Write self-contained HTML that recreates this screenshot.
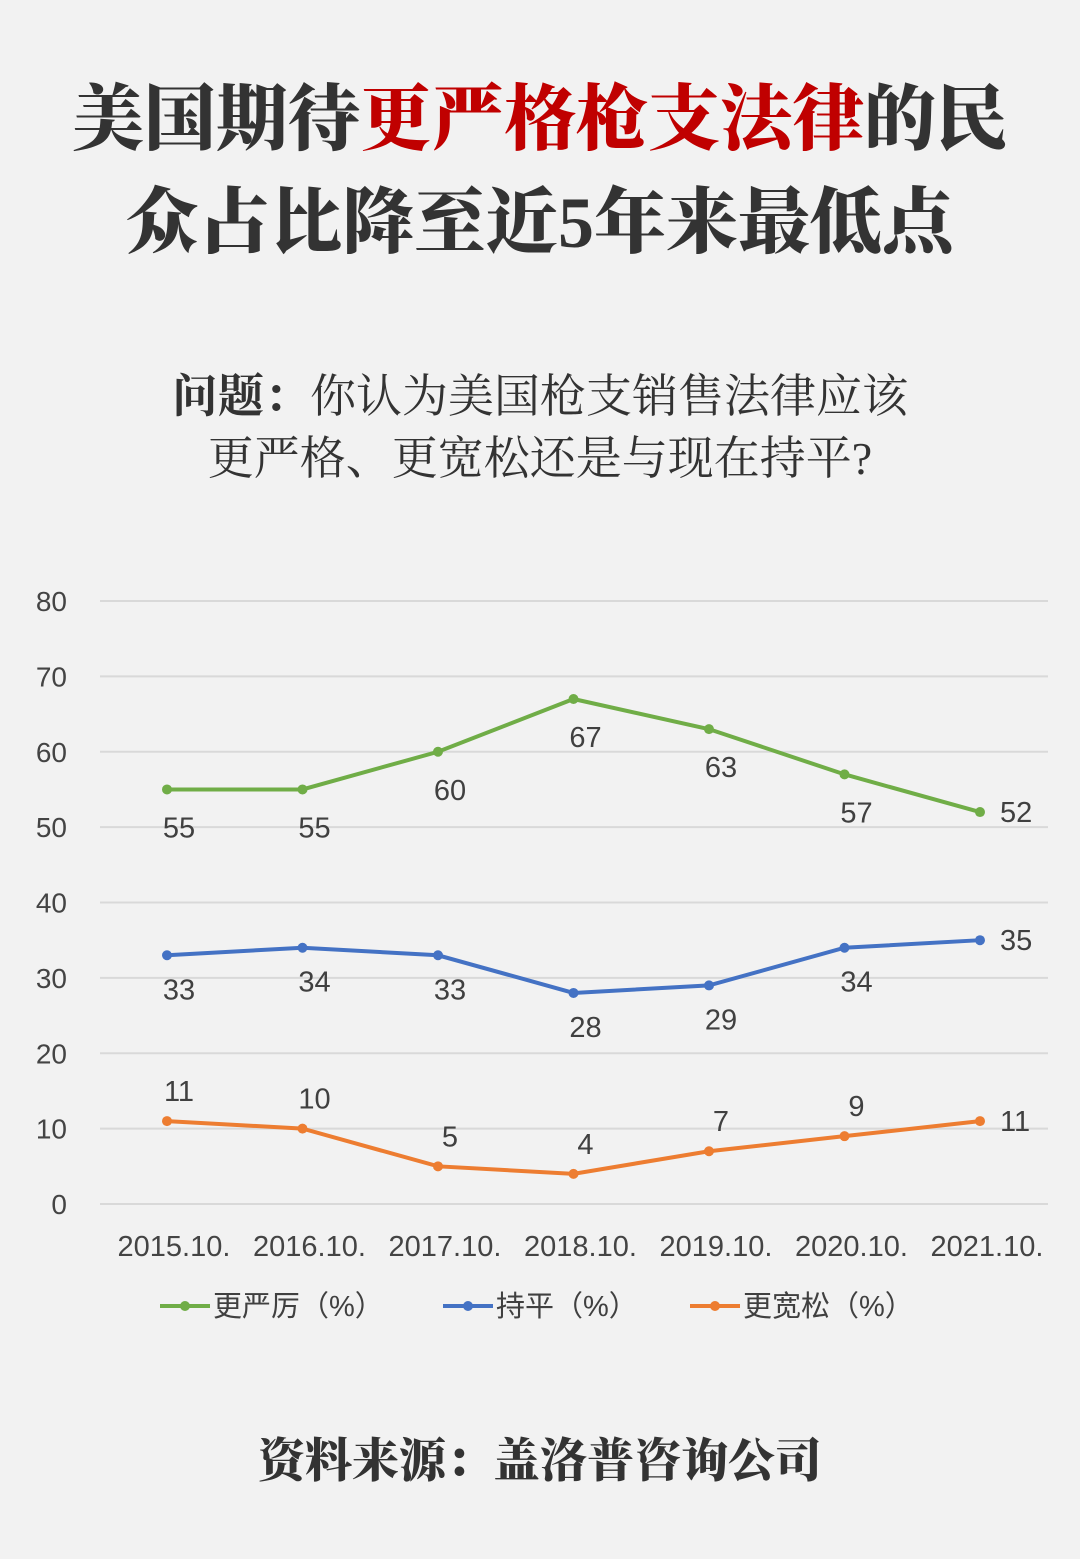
<!DOCTYPE html>
<html><head><meta charset="utf-8"><style>
body{margin:0;width:1080px;height:1559px;background:#f2f2f2;overflow:hidden}
.t{position:absolute;left:0;width:1080px;text-align:center;font-family:"Liberation Serif","Noto Serif CJK SC",serif;font-weight:900;color:#333}
</style></head><body>
<div class="t" style="top:80px;font-size:72px;line-height:80px">美国期待<span style="color:#c00000">更严格枪支法律</span>的民</div>
<div class="t" style="top:183px;font-size:72px;line-height:80px">众占比降至近5年来最低点</div>
<div class="t" style="top:366px;font-size:46px;line-height:62px;font-weight:400;color:#333"><b>问题：</b>你认为美国枪支销售法律应该<br>更严格、更宽松还是与现在持平?</div>
<svg id="chart" width="1080" height="1559" style="position:absolute;left:0;top:0" font-family="Liberation Sans, Noto Sans CJK SC, sans-serif"></svg>
<div class="t" style="top:1432px;font-size:47px;line-height:60px">资料来源：盖洛普咨询公司</div>
<script>
const categories=["2015.10.","2016.10.","2017.10.","2018.10.","2019.10.","2020.10.","2021.10."];
const stricter=[55,55,60,67,63,57,52];
const same=[33,34,33,28,29,34,35];
const looser=[11,10,5,4,7,9,11];
const yTicks=[0,10,20,30,40,50,60,70,80];
const svg=document.getElementById('chart');
const NS='http://www.w3.org/2000/svg';
const y=v=>1204-v*(603/80);
const x=i=>167+i*135.5;
function mk(t,a){const e=document.createElementNS(NS,t);for(const k in a)e.setAttribute(k,a[k]);svg.appendChild(e);return e;}
yTicks.forEach(v=>{
 const l=mk('line',{x1:100,x2:1048,y1:y(v),y2:y(v),stroke:'#d9d9d9','stroke-width':2});
 
 
 const t=mk('text',{x:67,y:y(v)+10,'text-anchor':'end','font-size':28,fill:'#444'});t.textContent=v;
 
 
});
categories.forEach((c,i)=>{
 const t=mk('text',{x:x(i)+7,y:1256,'text-anchor':'middle','font-size':29,fill:'#444'});t.textContent=c;
 
 
});
const series=[{d:stricter,c:'#70ad47',n:'stricter',dy:48},{d:same,c:'#4472c4',n:'same',dy:44},{d:looser,c:'#ed7d31',n:'looser',dy:-20}];
series.forEach(s=>{
 const p=mk('polyline',{points:s.d.map((v,i)=>x(i)+','+y(v)).join(' '),fill:'none',stroke:s.c,'stroke-width':4});
 
 
 s.d.forEach((v,i)=>{
  const c=mk('circle',{cx:x(i),cy:y(v),r:5,fill:s.c});
  
  
  const last=i===s.d.length-1;
  const t=mk('text',{x:last?x(i)+20:x(i)+12,y:last?y(v)+10:y(v)+s.dy,'text-anchor':last?'start':'middle','font-size':29,fill:'#404040'});
  t.textContent=v;
  
  
 });
});
const legend=[['更严厉（%）','#70ad47',160],['持平（%）','#4472c4',443],['更宽松（%）','#ed7d31',690]];
legend.forEach(l=>{
 const ln=mk('line',{x1:l[2],x2:l[2]+50,y1:1306,y2:1306,stroke:l[1],'stroke-width':4});
 
 
 const c=mk('circle',{cx:l[2]+25,cy:1306,r:5,fill:l[1]});
 
 
 const t=mk('text',{x:l[2]+53,y:1316,'font-size':29,fill:'#404040'});t.textContent=l[0];
 
 
});
</script>
</body></html>
